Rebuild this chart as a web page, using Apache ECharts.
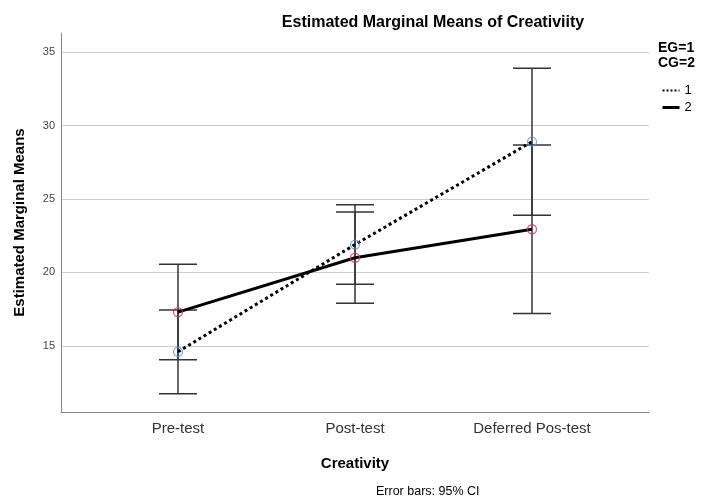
<!DOCTYPE html>
<html><head><meta charset="utf-8">
<script src="https://cdn.jsdelivr.net/npm/echarts@6/dist/echarts.min.js"></script>
<style>html,body{margin:0;padding:0;background:#fff}#c{width:702px;height:501px}</style>
</head><body><div id="c"></div>
<script>
const categories = ['Pre-test', 'Post-test', 'Deferred Pos-test'];
const categoryPos = [0, 1, 2];
const eg_means = [14.6, 21.9, 28.9];
const eg_low = [11.75, 19.2, 23.9];
const eg_high = [17.45, 24.6, 33.9];
const cg_means = [17.3, 21.0, 22.94];
const cg_low = [14.05, 17.9, 17.2];
const cg_high = [20.56, 24.12, 28.67];
const yTicks = [15, 20, 25, 30, 35];
const seriesNames = ['1', '2'];

const FONT = '"Liberation Sans", Arial, sans-serif';
const chart = echarts.init(document.getElementById('c'));

function pts(vals) { return categoryPos.map((p, i) => [p, vals[i]]); }
function bars(lo, hi) { return categoryPos.map((p, i) => [p, lo[i], hi[i]]); }

function errRender(params, api) {
  const x = api.value(0), lo = api.value(1), hi = api.value(2);
  const a = api.coord([x, lo]), b = api.coord([x, hi]);
  const hw = 19;
  const style = { stroke: '#333', lineWidth: 1.5 };
  return { type: 'group', children: [
    { type: 'line', shape: { x1: a[0], y1: a[1], x2: b[0], y2: b[1] }, style },
    { type: 'line', shape: { x1: a[0] - hw, y1: a[1], x2: a[0] + hw, y2: a[1] }, style },
    { type: 'line', shape: { x1: b[0] - hw, y1: b[1], x2: b[0] + hw, y2: b[1] }, style }
  ]};
}

chart.setOption({
  backgroundColor: '#fff',
  animation: false,
  textStyle: { fontFamily: FONT },
  title: {
    text: 'Estimated Marginal Means of Creativiity',
    left: 428, top: 10, textAlign: 'center',
    textStyle: { fontFamily: FONT, fontSize: 16, fontWeight: 'bold', color: '#000' }
  },
  grid: { left: 61, right: 53, top: 33, bottom: 89 },
  xAxis: {
    type: 'value', min: -0.661, max: 2.661,
    name: 'Creativity', nameLocation: 'middle', nameGap: 44,
    nameTextStyle: { fontFamily: FONT, fontSize: 15, fontWeight: 'bold', color: '#000' },
    axisLine: { show: true, onZero: false, lineStyle: { color: '#888', width: 1 } },
    axisTick: { show: false, customValues: categoryPos },
    splitLine: { show: false },
    axisLabel: {
      customValues: categoryPos,
      formatter: v => categories[Math.round(v)] || '',
      fontFamily: FONT, fontSize: 15, color: '#333', margin: 9
    }
  },
  yAxis: {
    type: 'value', min: 10.5, max: 36.3,
    name: 'Estimated Marginal Means', nameLocation: 'middle', nameGap: 34,
    nameTextStyle: { fontFamily: FONT, fontSize: 15, fontWeight: 'bold', color: '#000' },
    axisLine: { show: true, onZero: false, lineStyle: { color: '#888', width: 1 } },
    axisTick: { show: false, customValues: yTicks },
    splitLine: { show: true, lineStyle: { color: '#cdcdcd', width: 1 } },
    axisLabel: { customValues: yTicks, fontFamily: FONT, fontSize: 11, color: '#444', margin: 6 }
  },
  legend: {
    data: [
      { name: seriesNames[0], lineStyle: { width: 2, color: '#000', type: 'dotted' } },
      { name: seriesNames[1], lineStyle: { width: 3, color: '#000' } }
    ],
    orient: 'vertical', left: 661, top: 84, padding: 0,
    itemWidth: 17, itemHeight: 12, itemGap: 4,
    itemStyle: { color: 'rgba(0,0,0,0)', borderWidth: 0, opacity: 0 },
    textStyle: { fontFamily: FONT, fontSize: 13, color: '#000' }
  },
  graphic: [
    { type: 'text', left: 658, top: 41,
      style: { text: 'EG=1\nCG=2', fontFamily: FONT, fontSize: 14, fontWeight: 'bold', fill: '#000', lineHeight: 15 } },
    { type: 'text', left: 376, top: 485,
      style: { text: 'Error bars: 95% CI', fontFamily: FONT, fontSize: 12.5, fill: '#000' } }
  ],
  series: [
    { type: 'custom', name: 'eb1', renderItem: errRender, data: bars(eg_low, eg_high), z: 1, silent: true },
    { type: 'custom', name: 'eb2', renderItem: errRender, data: bars(cg_low, cg_high), z: 1, silent: true },
    { type: 'line', name: seriesNames[0], data: pts(eg_means), symbol: 'none', z: 3,
      lineStyle: { color: '#000', width: 3, type: 'dotted' }, itemStyle: { color: '#000' } },
    { type: 'line', name: seriesNames[1], data: pts(cg_means), symbol: 'none', z: 3,
      lineStyle: { color: '#000', width: 3, type: 'solid' }, itemStyle: { color: '#000' } },
    { type: 'scatter', name: 'm1', data: pts(eg_means), symbol: 'circle', symbolSize: 9, z: 4,
      itemStyle: { color: 'rgba(255,255,255,0)', borderColor: '#5b93d6', borderWidth: 1.3 } },
    { type: 'scatter', name: 'm2', data: pts(cg_means), symbol: 'circle', symbolSize: 9, z: 4,
      itemStyle: { color: 'rgba(255,255,255,0)', borderColor: '#d6345a', borderWidth: 1.3 } }
  ]
});
</script>
</body></html>
